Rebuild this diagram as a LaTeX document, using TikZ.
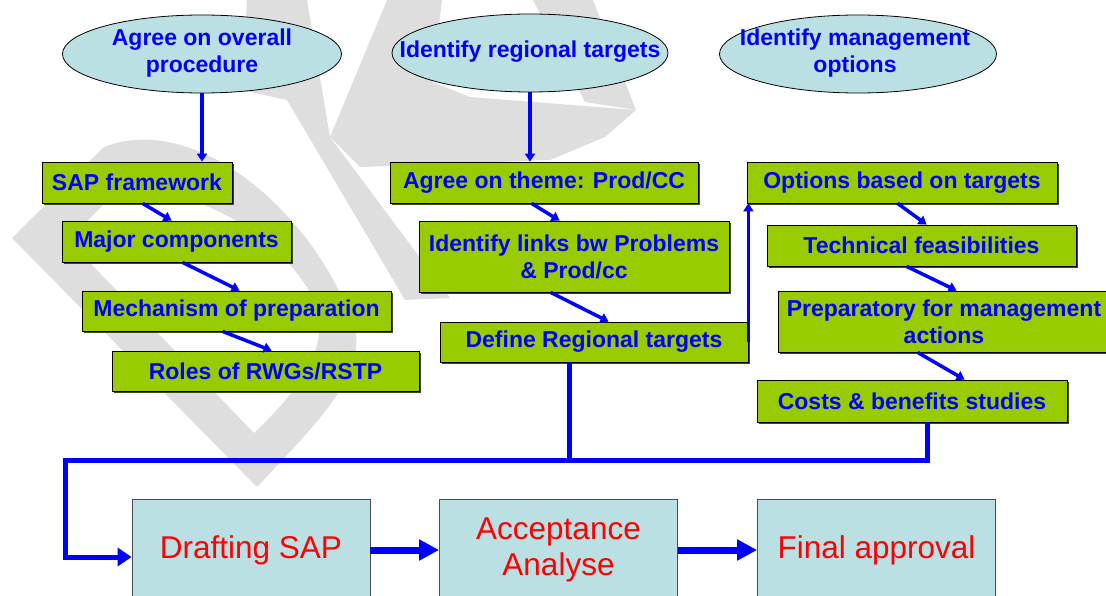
\documentclass[tikz,border=0pt]{standalone}
\usepackage{fontspec}
\setmainfont{Liberation Sans}
\usetikzlibrary{shapes.geometric,arrows.meta,shadows,calc}
\definecolor{bl}{HTML}{0000FF}
\definecolor{gr}{HTML}{99CC00}
\definecolor{cy}{HTML}{BBE0E3}
\definecolor{rd}{HTML}{FF0000}
\definecolor{wm}{HTML}{DEDEDE}
\begin{document}
\begin{tikzpicture}[x=1pt,y=-1pt,
  ell/.style={ellipse, draw=black, line width=0.8pt, fill=cy, inner sep=0pt, minimum height=78},
  etext/.style={text=bl, font=\bfseries\fontsize{23}{27}\selectfont, align=center, inner sep=0pt},
  gbox/.style={rectangle, draw=black, line width=0.8pt, fill=gr, text=bl,
    font=\bfseries\fontsize{23}{27}\selectfont, align=center, inner sep=0pt,
    drop shadow={shadow xshift=2pt, shadow yshift=-2pt, fill=black!75, opacity=1}},
  cbox/.style={rectangle, draw=black!70, line width=0.8pt, fill=cy, text=rd,
    font=\fontsize{31.5}{36}\selectfont, align=center, inner sep=0pt,
    minimum width=238, minimum height=102},
  conn/.style={draw=bl, line width=3.5pt, -{Triangle[length=8pt,width=10pt]}},
  busline/.style={draw=bl, line width=5pt, line join=miter},
  bigarrow/.style={draw=bl, line width=7pt, -{Triangle[length=20pt,width=20pt]}},
  wmark/.style={fill=wm, draw=none}
]
\path[use as bounding box, clip] (0,0) rectangle (1106,596);
\fill[white] (0,0) rectangle (1106,596);

% watermark
\path[wmark, even odd rule]
  (12,238) -- (104,147) .. controls (200,110) and (320,220) .. (355,330)
  .. controls (365,375) and (320,420) .. (257,487) -- cycle
  (68,240) -- (110,198) .. controls (170,172) and (280,230) .. (314,300)
  .. controls (330,340) and (310,380) .. (254,433) -- cycle;
\path[wmark] (247,0) -- (307,0) -- (330,137) -- (450,298) -- (405,300)
  -- (287,100) -- (242,90) -- cycle;
\path[wmark] (330,137) -- (387,0) -- (442,0) -- (432,82) -- (470,97)
  -- (636,110) -- (605,137) -- (550,160) -- (360,167) -- cycle;
\path[wmark] (533,0) -- (593,0) -- (636,110) -- (585,102) -- cycle;

% ellipses
\node[ell, minimum width=279] (e1) at (202,54) {};
\node[etext] (e1t) at (202,53) {Agree on overall\\procedure};
\node[ell, minimum width=276] (e2) at (530,53) {};
\node[etext] (e2t) at (530,52) {Identify regional targets};
\node[ell, minimum width=277] (e3) at (858,54) {};
\node[etext] (e3t) at (855,53) {Identify management\\options};

% left column
\node[gbox, minimum width=190, minimum height=41] (sap) at (137,182.5) {SAP framework};
\node[gbox, minimum width=229, minimum height=41] (major) at (176.5,241.5) {Major components};
\node[gbox, minimum width=309, minimum height=40] (mech) at (236.5,311) {Mechanism of preparation};
\node[gbox, minimum width=307, minimum height=40] (roles) at (265.5,371) {Roles of RWGs/RSTP};

% middle column
\node[gbox, minimum width=308, minimum height=41] (theme) at (544,182.5) {Agree on theme: Prod/CC};
\node[gbox, minimum width=310, minimum height=71] (links) at (574,256.5) {Identify links bw Problems\\\& Prod/cc};
\node[gbox, minimum width=308, minimum height=40] (define) at (594,342) {Define Regional targets};

% right column
\node[gbox, minimum width=310, minimum height=41] (options) at (902,182.5) {Options based on targets};
\node[gbox, minimum width=309, minimum height=41] (tech) at (921.5,245.5) {Technical feasibilities};
\node[gbox, minimum width=332, minimum height=61] (prep) at (944,321.5) {Preparatory for management\\actions};
\node[gbox, minimum width=310, minimum height=42] (costs) at (912,401) {Costs \& benefits studies};

% bottom row
\node[cbox] (draft) at (251,550) {Drafting SAP};
\node[cbox] (accept) at (558.5,550) {Acceptance\\Analyse};
\node[cbox] (final) at (876.5,550) {Final approval};

% connectors
\draw[conn] (e1.south) -- (e1.south |- sap.north);
\draw[conn] (e2.south) -- (e2.south |- theme.north);
\draw[conn] ([xshift=101]sap.south west) -- ([xshift=110]major.north west);
\draw[conn] ([xshift=121]major.south west) -- ([xshift=158]mech.north west);
\draw[conn] ([xshift=141]mech.south west) -- ([xshift=160]roles.north west);
\draw[conn] ([xshift=142]theme.south west) -- ([xshift=141]links.north west);
\draw[conn] ([xshift=132]links.south west) -- ([xshift=169]define.north west);
\draw[conn] (define.east) -- (define.east |- options.south);
\draw[conn] ([xshift=151]options.south west) -- ([xshift=160]tech.north west);
\draw[conn] ([xshift=140]tech.south west) -- ([xshift=179]prep.north west);
\draw[conn] ([xshift=140]prep.south west) -- ([xshift=208]costs.north west);

\coordinate (busL) at (65,460);
\coordinate (dv) at ([xshift=130]define.south west);
\coordinate (cv) at ([xshift=171]costs.south west);
\draw[busline] (dv) -- (dv |- busL);
\draw[busline, -{Triangle[length=14pt,width=18pt]}] (cv) |- (busL) |- ([yshift=-7]draft.west);

\draw[bigarrow] (draft.east) -- (accept.west);
\draw[bigarrow] (accept.east) -- (final.west);
\end{tikzpicture}
\end{document}
